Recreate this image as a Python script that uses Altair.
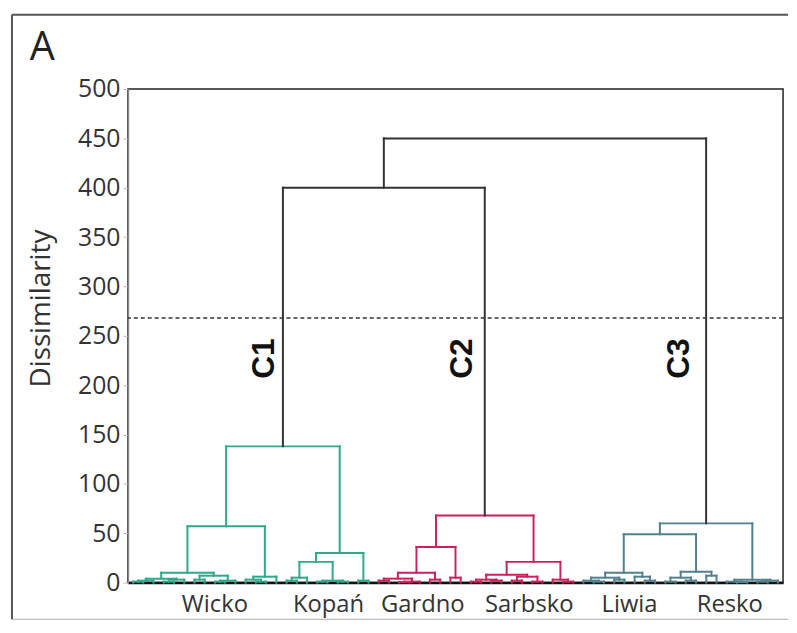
import altair as alt
import pandas as pd

# ---------------- data: dendrogram (height, left, right); "o" = leaf ----------------
L = "o"

# Cluster C1 (Wicko, Kopań)
c1_wicko_a = [4, [2, [1, L, L], L], [3, [1, L, L], L]]
c1_wicko_b = [7, [3, L, L], [2, [1, L, L], L]]
c1_wicko_c = [6, [3, L, [1, L, L]], L]
c1_kopan_a = [21, [5, [2, L, L], L], [2, [1, L, L], [1, L, L]]]
c1_kopan_b = [2, L, L]
c1_tree = [138, [57, [10, c1_wicko_a, c1_wicko_b], c1_wicko_c], [30, c1_kopan_a, c1_kopan_b]]

# Cluster C2 (Gardno, Sarbsko)
c2_gardno_a = [10, [4, [2, L, L], [1, [0.5, L, L], L]], [3, L, L]]
c2_gardno_b = [5, L, L]
c2_sarb_a = [8, [3, [1, L, L], [2, L, L]], [6, [2, L, L], [1, L, L]]]
c2_sarb_b = [3, L, [1, L, L]]
c2_tree = [68, [36, c2_gardno_a, c2_gardno_b], [21, c2_sarb_a, c2_sarb_b]]

# Cluster C3 (Liwia, Resko)
c3_liwia = [10, [5, [2, L, [1, L, L]], [3, L, L]], [6, L, [2, L, L]]]
c3_resko_a = [11, [5, [1, L, L], [2, L, L]], [7, L, L]]
c3_resko_b = [3, [1, L, [0.5, L, L]], [2, [1, L, L], L]]
c3_tree = [60, [49, c3_liwia, c3_resko_a], c3_resko_b]

upper_heights = [400, 450]
root = [upper_heights[1], [upper_heights[0], c1_tree, c2_tree], c3_tree]

threshold = [268]

site_names = ["Wicko", "Kopań", "Gardno", "Sarbsko", "Liwia", "Resko"]
site_leaf_pos = [8.5, 19.6, 28.8, 39.2, 49.0, 58.8]

cluster_names = ["C1", "C2", "C3"]
cluster_label_pos = [13.3, 32.6, 53.8]
cluster_label_height = [227, 227, 227]

y_ticks = list(range(0, 501, 50))

# ---------------- build segments from the tree ----------------
cluster_of = {id(c1_tree): "C1", id(c2_tree): "C2", id(c3_tree): "C3"}
segs = []
counter = [0]


def layout(node, color):
    if node == L:
        x = counter[0] + 0.5
        counter[0] += 1
        return x, 0.0
    color = cluster_of.get(id(node), color)
    h, left, right = node
    xl, hl = layout(left, color)
    xr, hr = layout(right, color)
    segs.append(dict(x=xl, y=h, x2=xr, y2=h, c=color))
    segs.append(dict(x=xl, y=hl, x2=xl, y2=h, c=color))
    segs.append(dict(x=xr, y=hr, x2=xr, y2=h, c=color))
    return (xl + xr) / 2, h


layout(root, "top")
n_leaves = counter[0]
seg_df = pd.DataFrame(segs)

W, H = 661, 498
FONT = "Open Sans"
YT = "Dissimilarity"

xscale = alt.Scale(domain=[0, n_leaves], nice=False, zero=False)
yscale = alt.Scale(domain=[0, 500], nice=False)

color_scale = alt.Scale(domain=["C1", "C2", "C3", "top"],
                        range=["#2fa88c", "#c8245a", "#52808e", "#333333"])

lines = alt.Chart(seg_df).mark_rule(strokeWidth=2, strokeCap="square").encode(
    x=alt.X("x:Q", scale=xscale, title="",
            axis=alt.Axis(labels=False, ticks=False, grid=False,
                          domainColor="#111", domainWidth=2.5)),
    x2="x2:Q",
    y=alt.Y("y:Q", scale=yscale, title=YT,
            axis=alt.Axis(values=y_ticks, grid=False,
                          labelFont=FONT, labelFontSize=25, labelColor="#333",
                          labelPadding=3, tickSize=5, tickColor="#bbb",
                          domainColor="#888", domainWidth=1.5,
                          titleFont=FONT, titleFontSize=28, titleFontWeight="normal",
                          titleColor="#333", titleX=-87, titleY=221,
                          titleAlign="center", titleBaseline="middle", titleAngle=270)),
    y2="y2:Q",
    color=alt.Color("c:N", scale=color_scale, legend=None),
)

thr = alt.Chart(pd.DataFrame({"t": threshold})).mark_rule(
    strokeDash=[4, 3], strokeWidth=1.5, color="#333"
).encode(y=alt.Y("t:Q", scale=yscale, title=YT))

site_df = pd.DataFrame({"name": site_names, "pos": site_leaf_pos})
sites = alt.Chart(site_df).mark_text(
    font=FONT, fontSize=24, color="#333", baseline="alphabetic", align="center"
).encode(x=alt.X("pos:Q", scale=xscale, title=""), y=alt.value(H + 30), text="name:N")

cl_df = pd.DataFrame({"name": cluster_names, "pos": cluster_label_pos, "h": cluster_label_height})
clabels = alt.Chart(cl_df).mark_text(
    font="Liberation Sans", fontSize=32, fontWeight="bold", color="#111",
    angle=270, align="center", baseline="middle"
).encode(x=alt.X("pos:Q", scale=xscale, title=""),
         y=alt.Y("h:Q", scale=yscale, title=YT), text="name:N")

dummy = pd.DataFrame({"k": [0]})
frame_left = alt.Chart(dummy).mark_rule(color="#555", strokeWidth=2).encode(
    x=alt.value(-117), y=alt.value(-75), y2=alt.value(535))
frame_top = alt.Chart(dummy).mark_rule(color="#555", strokeWidth=2).encode(
    x=alt.value(-117), x2=alt.value(W + 5), y=alt.value(-75))
frame_bottom = alt.Chart(dummy).mark_rule(color="#aaa", strokeWidth=1).encode(
    x=alt.value(-117), x2=alt.value(W + 5), y=alt.value(535))
panel = alt.Chart(dummy).mark_text(
    text="A", font=FONT, fontSize=40, color="#222", align="left", baseline="alphabetic"
).encode(x=alt.value(-99), y=alt.value(-29))

chart = alt.layer(
    lines, thr, clabels, sites, frame_left, frame_top, frame_bottom, panel
).properties(
    width=W, height=H, padding={"left": 3, "top": 3, "right": 0, "bottom": 0}
).configure_view(stroke="#222", strokeWidth=1.5)

chart.save("out.html", embed_options={"renderer": "svg", "actions": False})
